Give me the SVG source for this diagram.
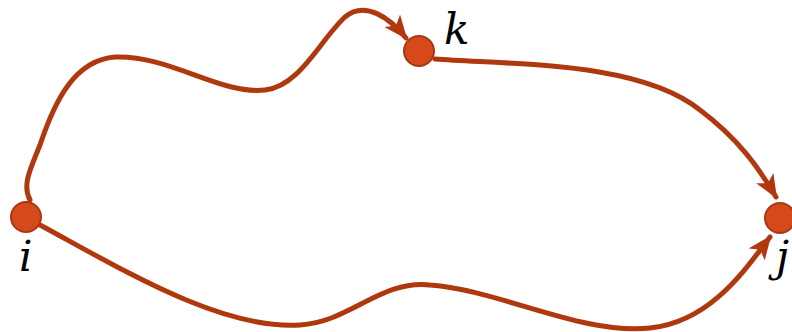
<svg xmlns="http://www.w3.org/2000/svg" width="792" height="332" viewBox="0 0 792 332">
<style>
.edge{fill:none;stroke:#b0380e;stroke-width:5;stroke-linecap:round}
.node{fill:#d5491b;stroke:#a83812;stroke-width:2}
.lbl{font-family:"DejaVu Serif","Liberation Serif",serif;font-style:italic;font-size:42px;fill:#000}
</style>
<defs>
<marker id="ah" markerUnits="userSpaceOnUse" markerWidth="26" markerHeight="22" refX="22" refY="10" orient="auto">
<path d="M0,0 L24,10 L0,20 L6,10 Z" fill="#b0380e"/>
</marker>
</defs>
<rect width="792" height="332" fill="#fff"/>
<g id="connectors">
<path class="edge" marker-end="url(#ah)" d="M 30 200 C 22 185, 30 170, 40 145 C 55 100, 75 60, 115 57 C 170 55, 220 95, 265 90 C 300 86, 320 40, 345 17 C 365 0, 390 18, 406 38"/>
<path class="edge" marker-end="url(#ah)" d="M 435 59 C 520 65, 640 62, 700 110 C 740 140, 760 170, 776 197"/>
<path class="edge" marker-end="url(#ah)" d="M 40 225 C 120 268, 220 330, 300 325 C 350 322, 380 280, 430 285 C 500 290, 580 335, 650 328 C 710 322, 745 270, 770 237"/>
</g>
<g id="node-i"><circle class="node" cx="26" cy="217" r="15"/><text class="lbl" x="19" y="271">i</text></g>
<g id="node-k"><circle class="node" cx="419" cy="51" r="15"/><text class="lbl" x="444" y="44">k</text></g>
<g id="node-j"><circle class="node" cx="780" cy="218" r="15"/><text class="lbl" x="776" y="271">j</text></g>
</svg>
